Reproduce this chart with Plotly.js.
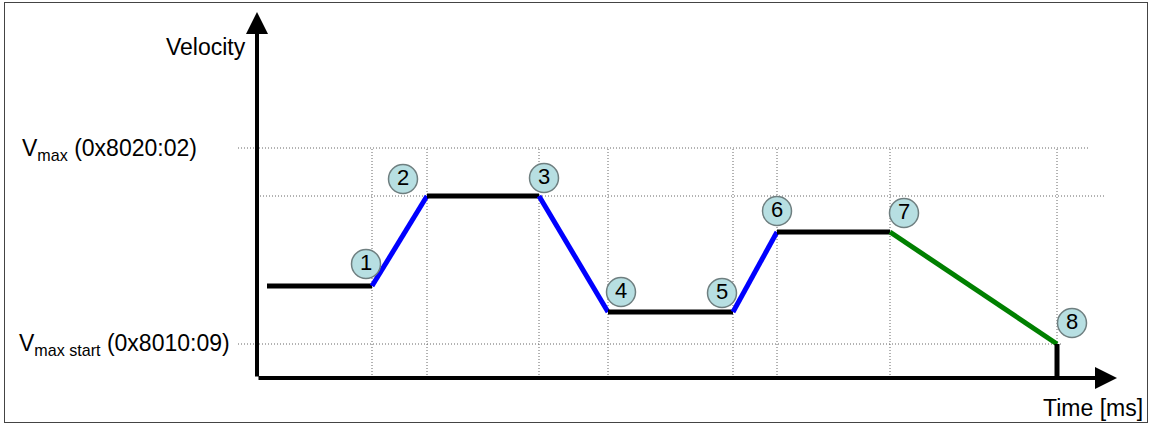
<!DOCTYPE html>
<html>
<head>
<meta charset="utf-8">
<script src="https://cdn.plot.ly/plotly-3.0.1.min.js"></script>
<style>
    body { margin: 0; background: #fff; }
    #wrap { position: relative; width: 1151px; height: 425px; }
    #chart { position: absolute; left: 0; top: 0; width: 1151px; height: 425px; }
    #frame { position: absolute; left: 4px; top: 2px; width: 1142px; height: 419px; border: 1px solid #444; pointer-events: none; }
</style>
</head>
<body>
<div id="wrap">
    <div id="chart"></div>
    <div id="frame"></div>
</div>
<script>
// Velocity profile: time (arbitrary units) and velocity (arbitrary units)
const times = [10, 115, 170, 282, 351, 476, 520, 633, 800, 800];
const velocity = [92, 92, 182, 182, 66, 66, 146, 146, 34, 0];
const segmentColors = ['black', 'blue', 'black', 'blue', 'black', 'blue', 'black', 'green', 'black'];

// numbered events sit on points 1..8
const eventLabels = ['1', '2', '3', '4', '5', '6', '7', '8'];
const labelDx = [-6, -24, 5, 13, -11, 0, 14, 15];
const labelDy = [22, 17, 18, 20, 19, 21, 19, 21];

const vMax = 230;
const vMaxStart = 34;
const vPlateau = 182;

const font = 'Liberation Sans, Arial, sans-serif';
const gridLine = { color: '#666', width: 1, dash: '1px,2px' };

const traces = [];

// dotted guide lines
traces.push({ x: [-19, 833], y: [vMax, vMax] });
traces.push({ x: [0, 849], y: [vPlateau, vPlateau] });
traces.push({ x: [-19, 806], y: [vMaxStart, vMaxStart] });
for (let i = 1; i <= 8; i++) {
    traces.push({ x: [times[i], times[i]], y: [0, vMax] });
}
traces.forEach(t => {
    t.type = 'scatter';
    t.mode = 'lines';
    t.line = gridLine;
    t.hoverinfo = 'skip';
});

// profile segments
for (let i = 0; i < segmentColors.length; i++) {
    traces.push({
        x: [times[i], times[i + 1]],
        y: [velocity[i], velocity[i + 1]],
        type: 'scatter',
        mode: 'lines',
        line: { color: segmentColors[i], width: 5 },
        hoverinfo: 'skip'
    });
}

// numbered circles
traces.push({
    x: eventLabels.map((_, i) => times[i + 1] + labelDx[i]),
    y: eventLabels.map((_, i) => velocity[i + 1] + labelDy[i]),
    text: eventLabels,
    type: 'scatter',
    mode: 'markers+text',
    textposition: 'middle center',
    textfont: { family: font, size: 22, color: '#000' },
    marker: { size: 29, color: '#b7dfe2', line: { color: '#6f7f80', width: 1.5 } },
    hoverinfo: 'skip'
});

function arrow(x, y) {
    return {
        x: x, y: y, xref: 'x', yref: 'y',
        ax: 0, ay: 0, axref: 'x', ayref: 'y',
        text: '', showarrow: true,
        arrowhead: 2, arrowsize: 1.1, arrowwidth: 4, arrowcolor: '#000'
    };
}

function label(text, x, y, xanchor) {
    return {
        text: text, x: x, y: y, xref: 'x', yref: 'y',
        xanchor: xanchor, yanchor: 'middle', showarrow: false,
        font: { family: font, size: 23, color: '#000' }
    };
}

const layout = {
    width: 1151,
    height: 425,
    margin: { l: 0, r: 0, t: 0, b: 0 },
    paper_bgcolor: '#fff',
    plot_bgcolor: '#fff',
    showlegend: false,
    xaxis: { range: [-257, 894], visible: false, fixedrange: true },
    yaxis: { range: [-47, 378], visible: false, fixedrange: true },
    annotations: [
        arrow(0, 366),
        arrow(860, 0),
        label('Velocity', -9, 331, 'right'),
        label('V<sub>max</sub> (0x8020:02)', -237, 229, 'left'),
        label('V<sub>max start</sub> (0x8010:09)', -240, 34, 'left'),
        label('Time [ms]', 888, -30, 'right')
    ]
};

Plotly.newPlot('chart', traces, layout, { staticPlot: true });
</script>
</body>
</html>
